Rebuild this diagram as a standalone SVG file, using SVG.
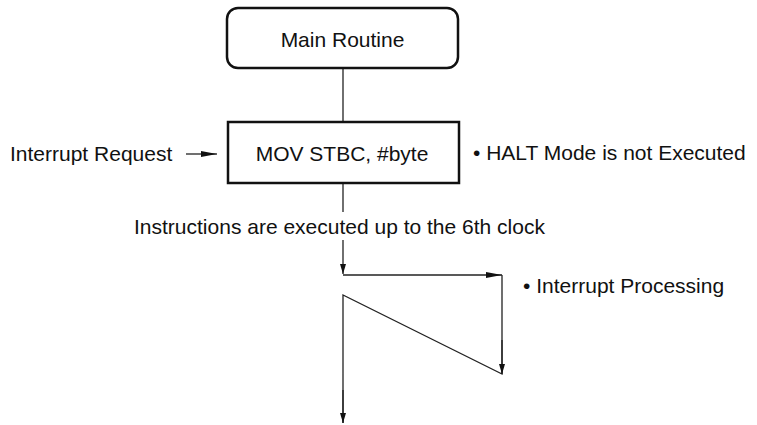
<svg xmlns="http://www.w3.org/2000/svg" width="757" height="425" viewBox="0 0 757 425">
<defs>
<style>
text{font-family:"Liberation Sans",Arial,sans-serif;font-size:21px;fill:#111}
.ln{stroke:#222;stroke-width:1.3;fill:none}
.box{stroke:#111;stroke-width:2.5;fill:#fff}
</style>
<marker id="ah" viewBox="0 0 10 10" refX="10" refY="5" markerWidth="10" markerHeight="10" markerUnits="userSpaceOnUse" orient="auto">
<path d="M0,2 L10,5 L0,8 Z" fill="#111"/>
</marker>
<marker id="ahl" viewBox="0 0 16 10" refX="16" refY="5" markerWidth="16" markerHeight="10" markerUnits="userSpaceOnUse" orient="auto">
<path d="M0,2 L16,5 L0,8 Z" fill="#111"/>
</marker>
</defs>
<g id="connectors">
<line class="ln" x1="343" y1="68" x2="343" y2="122"/>
<line class="ln" x1="343" y1="183" x2="343" y2="212"/>
<line class="ln" x1="343" y1="240" x2="343" y2="274" marker-end="url(#ah)"/>
<line class="ln" x1="186" y1="154" x2="217" y2="154" marker-end="url(#ahl)"/>
<line class="ln" x1="343" y1="275" x2="502" y2="275" marker-end="url(#ahl)"/>
<polyline class="ln" points="502,275 502,374 343,295 343,423"/>
<line class="ln" x1="502" y1="340" x2="502" y2="374" marker-end="url(#ah)"/>
<line class="ln" x1="343" y1="390" x2="343" y2="423" marker-end="url(#ah)"/>
</g>
<g id="main-routine">
<rect class="box" x="227" y="8" width="231" height="60" rx="11"/>
<text x="342.5" y="47" text-anchor="middle">Main Routine</text>
</g>
<g id="mov-stbc">
<rect class="box" x="228" y="122" width="231" height="61"/>
<text x="342" y="161" text-anchor="middle">MOV STBC, #byte</text>
</g>
<g id="interrupt-request">
<text x="10" y="161">Interrupt Request</text>
</g>
<g id="halt-note">
<text x="473" y="160">• HALT Mode is not Executed</text>
</g>
<g id="instructions-note">
<text x="134" y="234">Instructions are executed up to the 6th clock</text>
</g>
<g id="interrupt-processing">
<text x="523" y="293">• Interrupt Processing</text>
</g>
</svg>
